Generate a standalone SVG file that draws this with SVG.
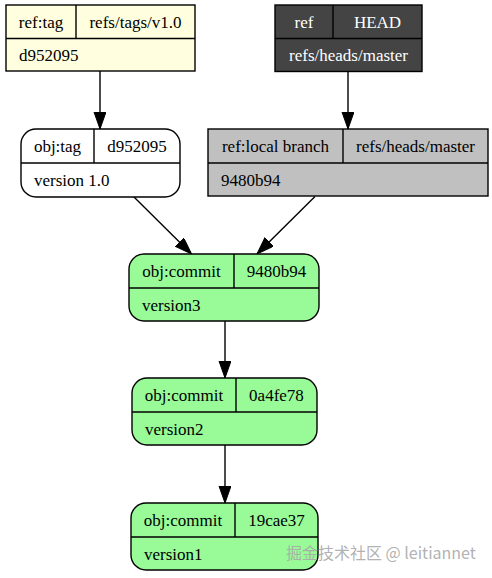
<svg xmlns="http://www.w3.org/2000/svg" width="492" height="578" viewBox="0 0 492 578">
<defs>
<marker id="arr" markerUnits="userSpaceOnUse" markerWidth="18" markerHeight="13" refX="17" refY="6" orient="auto">
<path d="M0,0 L17,6 L0,12 z" fill="#000" stroke="#000" stroke-width="1"/>
</marker>
</defs>
<style>
.box{stroke:#000;stroke-width:1.4}
.div{stroke:#000;stroke-width:1.4;fill:none}
.t{font-family:"Liberation Serif","Times New Roman",serif;font-size:17px;fill:#000}
.c{text-anchor:middle}
.w{fill:#fff}
.edge{stroke:#000;stroke-width:1.4;fill:none;marker-end:url(#arr)}
</style>
<rect width="492" height="578" fill="#fff"/>
<g id="edges">
<line class="edge" x1="100" y1="71" x2="100" y2="129"/>
<line class="edge" x1="348" y1="72" x2="348" y2="129"/>
<line class="edge" x1="133.5" y1="196.5" x2="191.5" y2="254"/>
<line class="edge" x1="315" y1="196.5" x2="257" y2="254"/>
<line class="edge" x1="225" y1="321" x2="225" y2="378"/>
<line class="edge" x1="225" y1="445" x2="225" y2="503"/>
</g>
<g id="ref_tag">
<rect class="box" x="6" y="5" width="189" height="66" fill="#ffffe0"/>
<line class="div" x1="6" y1="38.5" x2="195" y2="38.5"/>
<line class="div" x1="76" y1="5" x2="76" y2="38.5"/>
<text class="t c" x="41" y="28">ref:tag</text>
<text class="t c" x="135.5" y="28">refs/tags/v1.0</text>
<text class="t" x="19" y="60.5">d952095</text>
</g>
<g id="head">
<rect class="box" x="275" y="5" width="147" height="66.5" fill="#444444"/>
<line class="div" x1="275" y1="38.5" x2="422" y2="38.5"/>
<line class="div" x1="333" y1="5" x2="333" y2="38.5"/>
<text class="t c w" x="304" y="28">ref</text>
<text class="t c w" x="377.5" y="28">HEAD</text>
<text class="t c w" x="348.5" y="60.5">refs/heads/master</text>
</g>
<g id="obj_tag">
<rect class="box" x="21" y="129" width="159" height="68" rx="15" ry="15" fill="#fff"/>
<line class="div" x1="21" y1="163" x2="180" y2="163"/>
<line class="div" x1="94" y1="129" x2="94" y2="163"/>
<text class="t c" x="57.5" y="152">obj:tag</text>
<text class="t c" x="137" y="152">d952095</text>
<text class="t" x="34" y="186">version 1.0</text>
</g>
<g id="local_branch">
<rect class="box" x="208" y="129" width="280" height="67" fill="#c0c0c0"/>
<line class="div" x1="208" y1="163" x2="488" y2="163"/>
<line class="div" x1="343" y1="129" x2="343" y2="163"/>
<text class="t c" x="275.5" y="152">ref:local branch</text>
<text class="t c" x="415.5" y="152">refs/heads/master</text>
<text class="t" x="221" y="186">9480b94</text>
</g>
<g id="commit3">
<rect class="box" x="129" y="254" width="190" height="67" rx="15" ry="15" fill="#98fb98"/>
<line class="div" x1="129" y1="288" x2="319" y2="288"/>
<line class="div" x1="234" y1="254" x2="234" y2="288"/>
<text class="t c" x="181.5" y="277">obj:commit</text>
<text class="t c" x="276.5" y="277">9480b94</text>
<text class="t" x="142" y="310.5">version3</text>
</g>
<g id="commit2">
<rect class="box" x="132" y="378" width="185" height="67" rx="15" ry="15" fill="#98fb98"/>
<line class="div" x1="132" y1="412" x2="317" y2="412"/>
<line class="div" x1="236" y1="378" x2="236" y2="412"/>
<text class="t c" x="184" y="401">obj:commit</text>
<text class="t c" x="276.5" y="401">0a4fe78</text>
<text class="t" x="145" y="434.5">version2</text>
</g>
<g id="commit1">
<rect class="box" x="131" y="503" width="187" height="67" rx="15" ry="15" fill="#98fb98"/>
<line class="div" x1="131" y1="537" x2="318" y2="537"/>
<line class="div" x1="235" y1="503" x2="235" y2="537"/>
<text class="t c" x="183" y="526">obj:commit</text>
<text class="t c" x="276.5" y="526">19cae37</text>
<text class="t" x="144" y="559.5">version1</text>
</g>
<text x="286" y="559" font-family="'Noto Sans CJK SC','Noto Sans',sans-serif" font-size="16" fill="#a8a8a8" fill-opacity="0.9">掘金技术社区 @ leitiannet</text>
</svg>
